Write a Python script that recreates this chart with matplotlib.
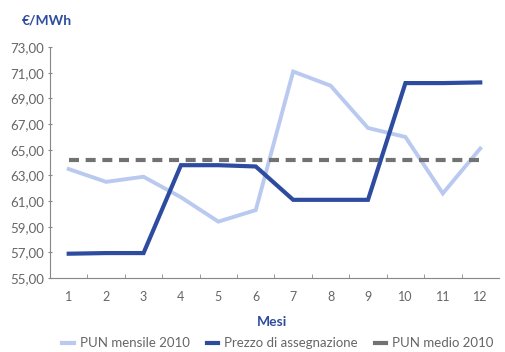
import matplotlib.pyplot as plt
from matplotlib.lines import Line2D
from matplotlib.ticker import FuncFormatter

mesi = [1, 2, 3, 4, 5, 6, 7, 8, 9, 10, 11, 12]
pun_mensile = [63.5, 62.5, 62.9, 61.3, 59.4, 60.3, 71.1, 70.0, 66.7, 66.0, 61.6, 65.1]
prezzo_assegnazione = [56.9, 56.95, 56.95, 63.8, 63.8, 63.7, 61.1, 61.1, 61.1, 70.2, 70.2, 70.25]
pun_medio = [64.2] * 12

col_light = '#b9c9ef'
col_dark = '#2e4c9f'
col_grey = '#727272'
col_text = '#666666'

plt.rcParams['font.family'] = ['Lato', 'DejaVu Sans']

fig = plt.figure(figsize=(5.05, 3.52), dpi=100)
ax = fig.add_axes([0.099, 0.21, 0.889, 0.656])

ax.plot(mesi, pun_mensile, color=col_light, lw=2.8, solid_joinstyle='miter')
ax.plot(mesi, prezzo_assegnazione, color=col_dark, lw=3.0, solid_joinstyle='miter')
ax.plot(mesi, pun_medio, color=col_grey, lw=3.0, dashes=(2.4, 1.6))

ax.set_xlim(0.5, 12.5)
ax.set_ylim(55, 73)
ax.set_yticks(range(55, 74, 2))
ax.yaxis.set_major_formatter(FuncFormatter(lambda v, p: f'{v:.2f}'.replace('.', ',')))
ax.set_xticks(mesi)
ax.set_xticks([m + 0.5 for m in mesi[:-1]], minor=True)
ax.tick_params(axis='x', which='major', length=0, pad=9, labelsize=9, labelcolor=col_text)
ax.tick_params(axis='x', which='minor', length=3, direction='in', color='#888888')
ax.tick_params(axis='y', length=3, direction='inout', color='#888888', labelsize=9.5,
               labelcolor=col_text, pad=3)

for s in ['top', 'right']:
    ax.spines[s].set_visible(False)
for s in ['left', 'bottom']:
    ax.spines[s].set_color('#888888')
    ax.spines[s].set_linewidth(0.8)
    ax.spines[s].set_linestyle((0, (1, 0.6)))

fig.text(0.044, 0.943, '€/MWh', color=col_dark, fontsize=10, fontweight='bold', va='center')
fig.text(0.539, 0.085, 'Mesi', color=col_dark, fontsize=10, fontweight='bold',
         ha='center', va='center')

handles = [Line2D([], [], color=col_light, lw=3),
           Line2D([], [], color=col_dark, lw=3),
           Line2D([], [], color=col_grey, lw=3)]
labels = ['PUN mensile 2010', 'Prezzo di assegnazione', 'PUN medio 2010']
fig.legend(handles, labels, loc='center', bbox_to_anchor=(0.55, 0.025), ncol=3,
           frameon=False, fontsize=9.5, handlelength=0.9, handletextpad=0.4,
           columnspacing=1.3, labelcolor=col_text, borderpad=0.1)

fig.savefig('out.png', dpi=100)
